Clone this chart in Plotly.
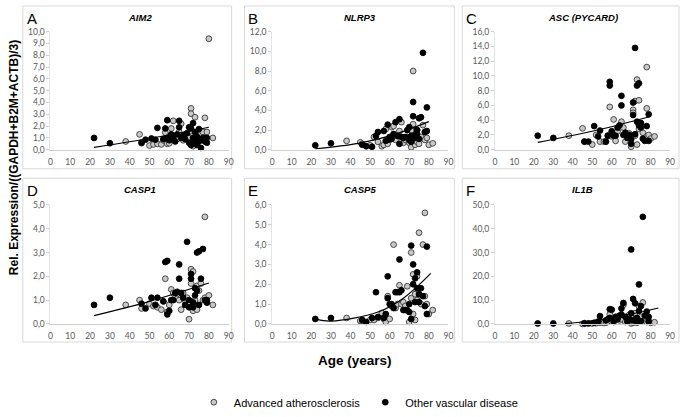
import plotly.graph_objects as go

W, H = 685, 417

# ---------------- data ----------------
b_age = [22, 30, 46, 48, 51, 53, 54, 57, 58, 59, 59, 60, 61, 62, 63, 64, 65, 65, 66, 67,
         68, 69, 70, 70, 71, 71, 72, 72, 73, 73, 74, 74, 75, 75, 76, 77, 78, 79, 79]
g_age = [38, 45, 46, 50, 52, 54, 56, 57, 58, 59, 60, 61, 62, 63, 64, 65, 66, 67, 68, 69,
         70, 71, 71, 72, 72, 73, 73, 74, 74, 75, 76, 77, 78, 78, 79, 80, 82]

aim2_other = [1.0, 0.55, 0.6, 0.85, 0.95, 0.85, 1.85, 0.9, 1.8, 2.5, 1.0, 0.8, 1.3, 1.0, 0.7, 1.3,
              2.45, 1.9, 1.0, 1.2, 0.9, 1.4, 1.9, 0.6, 1.8, 0.4, 2.25, 1.0, 1.5, 0.8, 0.4, 1.1,
              1.75, 0.7, 0.15, 1.0, 0.7, 1.0, 0.6]
aim2_adv = [0.7, 1.3, 0.55, 0.35, 0.45, 0.5, 0.45, 0.8, 1.45, 0.5, 0.55, 1.8, 2.45, 1.2, 0.9,
            1.5, 2.2, 0.8, 1.3, 0.9, 1.0, 3.5, 3.05, 0.3, 1.2, 2.75, 1.0, 0.9, 1.3, 1.1, 1.3,
            1.5, 2.7, 1.0, 1.5, 9.4, 1.0]

nlrp3_other = [0.45, 0.65, 0.5, 0.35, 0.3, 1.4, 1.8, 1.9, 0.9, 2.55, 1.0, 1.3, 1.1, 1.6, 2.8, 1.4,
               3.1, 0.6, 1.3, 1.2, 1.3, 2.0, 2.3, 1.0, 1.4, 0.8, 4.85, 3.4, 1.5, 1.2, 2.0, 1.6,
               3.2, 1.1, 3.3, 9.85, 1.8, 4.3, 1.9]
nlrp3_adv = [0.9, 0.75, 0.6, 0.45, 1.3, 0.8, 0.35, 0.5, 2.1, 0.6, 1.0, 2.3, 2.4, 1.0, 1.5, 1.9,
             2.8, 0.7, 1.0, 1.3, 0.7, 0.25, 2.0, 8.0, 2.6, 0.5, 1.2, 0.8, 2.0, 0.6, 1.3, 2.5,
             1.8, 1.0, 1.2, 0.5, 0.65]

asc_other = [1.9, 1.6, 1.1, 1.1, 3.2, 1.8, 2.6, 1.1, 1.9, 9.2, 8.7, 2.5, 1.9, 1.9, 3.0, 3.3,
             7.3, 6.0, 2.0, 2.3, 1.6, 2.0, 1.4, 0.8, 6.4, 4.7, 13.8, 2.1, 8.7, 3.8, 9.0, 3.3,
             3.0, 3.6, 1.5, 1.2, 3.2, 4.8, 1.2]
asc_adv = [1.9, 2.9, 1.1, 0.7, 2.0, 1.1, 1.1, 1.1, 1.9, 5.8, 1.8, 4.1, 1.2, 2.5, 3.0, 3.8,
           3.0, 1.1, 1.8, 2.2, 0.4, 5.4, 5.0, 6.6, 1.9, 9.5, 0.7, 6.7, 2.8, 3.6, 2.3, 1.6,
           11.2, 5.6, 2.0, 1.5, 1.8]

casp1_other = [0.8, 1.1, 0.85, 0.65, 1.1, 0.8, 1.1, 0.95, 2.6, 2.65, 0.4, 0.55, 1.0, 1.0, 1.3,
               1.35, 2.5, 1.9, 1.3, 1.1, 0.8, 3.45, 1.0, 0.7, 2.1, 1.9, 0.9, 0.7, 1.5, 1.2,
               3.0, 1.4, 3.05, 0.8, 1.9, 3.15, 1.0, 0.9, 1.0]
casp1_adv = [0.8, 1.0, 0.65, 0.85, 0.75, 0.7, 0.6, 0.95, 1.9, 0.5, 0.8, 1.45, 1.3, 1.2, 1.05,
             1.0, 0.6, 1.3, 1.0, 1.1, 0.2, 2.3, 1.7, 2.2, 0.55, 0.7, 1.0, 1.6, 0.6, 1.4, 1.7,
             1.0, 4.5, 1.1, 0.9, 1.2, 0.8]

casp5_other = [0.25, 0.3, 0.2, 0.1, 0.3, 1.6, 0.35, 0.3, 0.5, 2.4, 1.3, 1.0, 1.0, 0.8, 1.6,
               1.6, 3.25, 1.6, 1.7, 0.7, 0.7, 0.7, 1.0, 0.6, 3.95, 0.25, 3.0, 2.0, 2.3, 1.1,
               2.6, 1.8, 1.5, 1.1, 1.8, 1.4, 0.9, 3.9, 0.5]
casp5_adv = [0.3, 0.15, 0.15, 0.2, 0.2, 0.3, 0.55, 0.25, 0.1, 1.4, 0.25, 0.9, 4.0, 0.8, 1.0,
             1.95, 1.0, 1.1, 0.9, 1.9, 0.1, 3.6, 1.3, 2.5, 0.5, 0.2, 1.5, 2.4, 1.2, 4.6, 1.0,
             4.0, 5.6, 1.4, 1.0, 0.5, 0.7]

il1b_other = [0.2, 0.2, 0.3, 0.2, 0.5, 1.0, 3.3, 1.5, 2.0, 6.2, 2.5, 6.0, 1.2, 3.0, 2.0, 3.5,
              6.5, 4.0, 8.8, 3.0, 1.0, 2.0, 31.3, 4.5, 10.5, 1.5, 8.7, 2.0, 2.5, 1.0, 16.6,
              5.5, 7.5, 1.2, 45.0, 3.5, 5.2, 3.0, 1.0]
il1b_adv = [0.2, 0.0, 0.1, 0.2, 0.3, 0.5, 0.4, 0.5, 1.0, 4.0, 1.0, 0.8, 2.0, 2.5, 1.5, 2.0,
            8.0, 0.8, 3.0, 3.8, 0.2, 0.5, 1.0, 4.5, 1.5, 0.5, 2.0, 7.5, 1.0, 3.0, 9.0, 1.5,
            2.0, 0.8, 1.0, 0.5, 0.7]

# trend lines
aim2_trend_x, aim2_trend_y = [22, 50, 80], [0.2, 0.95, 1.9]
nlrp3_trend_x, nlrp3_trend_y = [22, 44, 61, 80], [0.1, 0.65, 1.45, 2.85]
asc_trend_x, asc_trend_y = [22, 50, 80], [1.0, 2.5, 4.5]
casp1_trend_x, casp1_trend_y = [22, 50, 80], [0.35, 0.95, 1.72]
casp5_trend_x, casp5_trend_y = [22, 30, 54, 67, 81], [0.24, 0.14, 0.6, 1.3, 2.55]
il1b_trend_x, il1b_trend_y = [36, 60, 84], [0.1, 2.5, 6.7]

letters = ["A", "B", "C", "D", "E", "F"]
genes = ["AIM2", "NLRP3", "ASC (PYCARD)", "CASP1", "CASP5", "IL1B"]
y_max = [10, 12, 16, 5, 6, 50]
y_step = [1, 2, 2, 1, 1, 10]
x_ticks = [0, 10, 20, 30, 40, 50, 60, 70, 80, 90]

panels = [
    (aim2_adv, aim2_other, aim2_trend_x, aim2_trend_y),
    (nlrp3_adv, nlrp3_other, nlrp3_trend_x, nlrp3_trend_y),
    (asc_adv, asc_other, asc_trend_x, asc_trend_y),
    (casp1_adv, casp1_other, casp1_trend_x, casp1_trend_y),
    (casp5_adv, casp5_other, casp5_trend_x, casp5_trend_y),
    (il1b_adv, il1b_other, il1b_trend_x, il1b_trend_y),
]

# ---------------- layout geometry (pixels) ----------------
plot_x = [(49, 229), (273, 451), (498, 675)]
plot_y = [(28, 152), (210, 335)]
box_x = [(21, 232), (245, 457), (465, 684)]
box_y = [(1, 172), (182, 354)]

def px(x):
    return x / W

def py(y):
    return 1 - y / H

fig = go.Figure()
layout = dict(
    width=W, height=H,
    margin=dict(l=0, r=0, t=0, b=0),
    paper_bgcolor="white", plot_bgcolor="white",
    separators=",.",
    showlegend=True,
    font=dict(family="Liberation Sans, Arial, sans-serif", color="#000000"),
)
shapes = []
annotations = []
tickfont = dict(family="Lato, Open Sans, sans-serif", size=8.5, color="#595959")

for i, (adv, other, tx, ty) in enumerate(panels):
    r, c = divmod(i, 3)
    n = "" if i == 0 else str(i + 1)
    xa, ya = "x" + n, "y" + n
    layout["xaxis" + n] = dict(
        domain=[px(plot_x[c][0]), px(plot_x[c][1])], anchor=ya,
        range=[0, 90], tickvals=x_ticks, showgrid=False, zeroline=False,
        showline=True, linecolor="#d0d0d0", linewidth=1,
        ticks="outside", ticklen=4, tickcolor="rgba(0,0,0,0)",
        tickfont=tickfont, fixedrange=True,
    )
    layout["yaxis" + n] = dict(
        domain=[py(plot_y[r][1]), py(plot_y[r][0])], anchor=xa,
        range=[0, y_max[i]], dtick=y_step[i], tick0=0, tickformat=".1f",
        showgrid=False, zeroline=False,
        showline=True, linecolor="#e4e4e4", linewidth=1,
        ticks="outside", ticklen=3, tickcolor="#d0d0d0",
        tickfont=tickfont, fixedrange=True,
    )
    fig.add_trace(go.Scatter(
        x=g_age, y=adv, mode="markers", xaxis=xa, yaxis=ya,
        name="Advanced atherosclerosis", legendgroup="adv", showlegend=(i == 0),
        marker=dict(size=5.8, color="#c8c8c8", line=dict(color="#3a3a3a", width=0.9)),
        cliponaxis=False,
    ))
    fig.add_trace(go.Scatter(
        x=b_age, y=other, mode="markers", xaxis=xa, yaxis=ya,
        name="Other vascular disease", legendgroup="oth", showlegend=(i == 0),
        marker=dict(size=5.8, color="#000000", line=dict(color="#000000", width=0.9)),
        cliponaxis=False,
    ))
    fig.add_trace(go.Scatter(
        x=tx, y=ty, mode="lines", xaxis=xa, yaxis=ya, showlegend=False,
        line=dict(color="#000000", width=1.2, shape="spline"),
    ))
    # panel box
    shapes.append(dict(type="rect", xref="paper", yref="paper",
                       x0=px(box_x[c][0]), x1=px(box_x[c][1]),
                       y0=py(box_y[r][1]), y1=py(box_y[r][0]),
                       line=dict(color="#d9d9d9", width=1), layer="below"))
    # letter
    annotations.append(dict(text=letters[i], xref="paper", yref="paper",
                            x=px(box_x[c][0] + 2), y=py(box_y[r][0] + 2),
                            xanchor="left", yanchor="top", showarrow=False,
                            font=dict(family="Liberation Sans, Arial", size=15, color="#000000")))
    # gene title
    annotations.append(dict(text="<b><i>%s</i></b>" % genes[i], xref="paper", yref="paper",
                            x=px((plot_x[c][0] + plot_x[c][1]) / 2), y=py(box_y[r][0] + 12),
                            xanchor="center", yanchor="middle", showarrow=False,
                            font=dict(family="Liberation Sans, Arial", size=9.5, color="#000000")))

annotations.append(dict(text="<b>Rel. Expression/((GAPDH+B2M+ACTB)/3)</b>", xref="paper", yref="paper",
                        x=px(12), y=py(160), textangle=-90, showarrow=False,
                        xanchor="center", yanchor="middle",
                        font=dict(family="Liberation Sans, Arial", size=12, color="#000000")))
annotations.append(dict(text="<b>Age (years)</b>", xref="paper", yref="paper",
                        x=px(357), y=py(373), showarrow=False,
                        xanchor="center", yanchor="middle",
                        font=dict(family="Liberation Sans, Arial", size=13.5, color="#000000")))

layout["shapes"] = shapes
layout["annotations"] = annotations
layout["legend"] = dict(orientation="h", x=px(360), xanchor="center", y=py(402), yanchor="top",
                        font=dict(family="Liberation Sans, Arial", size=11, color="#000000"),
                        itemwidth=30, tracegroupgap=0, bgcolor="rgba(0,0,0,0)")
fig.update_layout(**layout)
fig.write_html("out.html", config={"displayModeBar": False},
               post_script="document.body.style.margin='0px';")
